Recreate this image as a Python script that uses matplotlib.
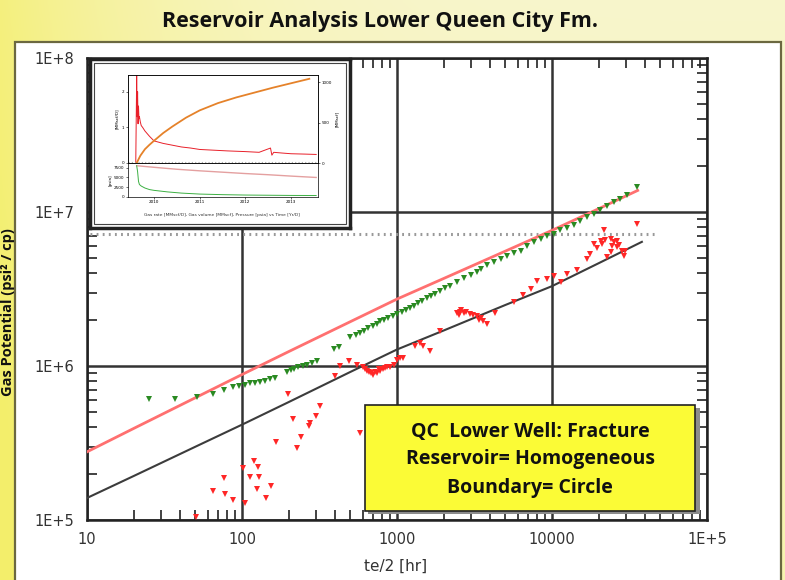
import matplotlib

matplotlib.use("Agg")
import matplotlib.pyplot as plt
import numpy as np
from matplotlib.patches import Rectangle
from matplotlib.ticker import FixedLocator, LogLocator, NullFormatter

W, H = 785, 580

# type-curve fits, te/2 [hr] vs gas potential
fit_upper_t = [10, 20, 50, 100, 200, 500, 1000, 2000, 5000, 10000, 20000, 35700]
fit_upper_p = [2.77e5, 3.93e5, 6.22e5, 8.8e5, 1.24e6, 1.94e6, 2.72e6, 3.7e6, 5.57e6, 7.6e6, 1.05e7, 1.38e7]
fit_lower_t = [10, 20, 50, 100, 200, 500, 1000, 2000, 5000, 10000, 20000, 38000]
fit_lower_p = [1.39e5, 1.93e5, 2.99e5, 4.16e5, 5.83e5, 9.15e5, 1.28e6, 1.7e6, 2.49e6, 3.3e6, 4.65e6, 6.4e6]

# measured derivative points (green)
deriv_t = [25, 37, 51, 65, 77, 88, 96, 104, 113, 121,
           130, 140, 152, 163, 195, 206, 218, 231, 246, 262,
           283, 305, 390, 420, 500, 545, 575, 610, 650, 695,
           740, 781, 830, 880, 940, 1000, 1070, 1140, 1210, 1282,
           1370, 1460, 1560, 1660, 1760, 1905, 2050, 2200, 2443, 2700,
           3000, 3290, 3460, 3800, 4200, 4656, 5100, 5650, 6266, 6900,
           7600, 8433, 9300, 10280, 11300, 12500, 13830, 15200, 16800, 18620,
           20500, 22700, 25100, 27600, 30600, 35560]
deriv_p = [6.1e5, 6.1e5, 6.3e5, 6.6e5, 7.0e5, 7.3e5, 7.4e5, 7.5e5, 7.7e5, 7.8e5,
           7.9e5, 8.0e5, 8.2e5, 8.3e5, 9.2e5, 9.4e5, 9.6e5, 9.8e5, 1.0e6, 1.02e6,
           1.05e6, 1.08e6, 1.28e6, 1.33e6, 1.55e6, 1.6e6, 1.65e6, 1.7e6, 1.76e6, 1.82e6,
           1.88e6, 1.95e6, 2.0e6, 2.05e6, 2.1e6, 2.17e6, 2.24e6, 2.31e6, 2.38e6, 2.46e6,
           2.55e6, 2.65e6, 2.75e6, 2.85e6, 2.93e6, 3.08e6, 3.2e6, 3.33e6, 3.52e6, 3.7e6,
           3.9e6, 4.06e6, 4.25e6, 4.5e6, 4.75e6, 4.96e6, 5.2e6, 5.45e6, 5.62e6, 6.0e6,
           6.35e6, 6.7e6, 6.95e6, 7.2e6, 7.6e6, 7.9e6, 8.2e6, 8.8e6, 9.3e6, 9.75e6,
           1.03e7, 1.1e7, 1.16e7, 1.21e7, 1.28e7, 1.46e7]

# measured pressure-change points (red)
delta_t = [50.6, 65, 77, 78, 88, 102, 104, 113, 119, 126,
           125, 129, 142, 154, 166, 197, 212, 226, 241, 269,
           275, 301, 320, 400, 430, 488, 552, 581, 600, 620,
           640, 660, 680, 700, 720, 740, 760, 780, 810, 840,
           860, 906, 950, 1000, 1050, 1100, 1300, 1400, 1480, 1640,
           1900, 2440, 2500, 2550, 2600, 2700, 2800, 2950, 3100, 3290,
           3380, 3500, 3600, 3800, 4300, 5680, 6500, 7280, 8040, 9330,
           10280, 11370, 12560, 14550, 16900, 17500, 18620, 19500, 20600, 21000,
           21600, 22000, 22800, 23900, 23900, 24500, 25100, 26400, 26400, 27000,
           28400, 29200, 29500, 35560]
delta_p = [1.05e5, 1.54e5, 1.88e5, 1.48e5, 1.35e5, 2.17e5, 1.28e5, 1.91e5, 2.4e5, 2.22e5,
           1.58e5, 1.9e5, 1.38e5, 1.67e5, 3.19e5, 6.6e5, 4.5e5, 2.93e5, 3.46e5, 4.1e5,
           4.27e5, 4.7e5, 5.47e5, 8.6e5, 1.0e6, 1.08e6, 1.02e6, 3.67e5, 9.8e5, 9.6e5,
           9.3e5, 9.2e5, 9.0e5, 8.7e5, 9.2e5, 9.0e5, 9.5e5, 9.3e5, 9.6e5, 9.7e5,
           9.9e5, 9.9e5, 1.02e6, 1.1e6, 1.13e6, 1.13e6, 1.35e6, 1.4e6, 1.35e6, 1.25e6,
           1.7e6, 2.2e6, 2.15e6, 2.25e6, 2.3e6, 2.2e6, 2.25e6, 2.17e6, 2.15e6, 2.11e6,
           2.0e6, 2.05e6, 1.95e6, 1.86e6, 2.2e6, 2.59e6, 2.9e6, 3.16e6, 3.58e6, 3.67e6,
           3.86e6, 3.49e6, 3.95e6, 4.17e6, 4.95e6, 5.3e6, 6.2e6, 5.8e6, 6.53e6, 6.2e6,
           7.6e6, 6.6e6, 5.08e6, 6.7e6, 5.48e6, 6.0e6, 6.37e6, 5.9e6, 6.53e6, 6.1e6,
           5.62e6, 5.2e6, 5.6e6, 8.4e6]

dotted_level = 7.2e6
dotted_span = [10.5, 48000]

x_ticks = [10, 100, 1000, 10000, 100000]
x_tick_labels = ["10", "100", "1000", "10000", "1E+5"]
y_ticks = [1e5, 1e6, 1e7, 1e8]
y_tick_labels = ["1E+5", "1E+6", "1E+7", "1E+8"]

# production history (inset)
rate_t = [2009.60, 2009.62, 2009.63, 2009.64, 2009.65, 2009.66, 2009.67, 2009.68, 2009.70, 2009.72,
          2009.75, 2009.8, 2009.9, 2010.0, 2010.2, 2010.4, 2010.6, 2010.8, 2011.0, 2011.3,
          2011.6, 2012.0, 2012.3, 2012.55, 2012.58, 2012.62, 2012.8, 2013.0, 2013.3, 2013.55]
rate = [0.0, 2.45, 1.3, 2.0, 1.1, 1.6, 1.25, 1.3, 1.15, 1.05,
        1.0, 0.9, 0.75, 0.62, 0.55, 0.5, 0.45, 0.42, 0.38, 0.36,
        0.34, 0.32, 0.3, 0.42, 0.22, 0.3, 0.28, 0.26, 0.25, 0.24]
cum_t = [2009.62, 2009.7, 2009.8, 2009.9, 2010.0, 2010.2, 2010.4, 2010.7, 2011.0, 2011.4,
         2011.8, 2012.2, 2012.6, 2013.0, 2013.4]
cum = [0, 90, 170, 225, 275, 370, 450, 560, 650, 740, 810, 870, 930, 985, 1040]
pres_t = [2009.62, 2010.0, 2010.5, 2011.0, 2011.5, 2012.0, 2012.5, 2013.0, 2013.55]
pres = [8000, 7600, 7100, 6700, 6350, 6000, 5700, 5350, 5000]
gas_t = [2009.62, 2009.64, 2009.66, 2009.68, 2009.72, 2009.8, 2009.9, 2010.0, 2010.3, 2010.6,
         2011.0, 2011.5, 2012.0, 2012.5, 2013.0, 2013.55]
gas = [8000, 6500, 4000, 3200, 2800, 2300, 1900, 1700, 1300, 1000,
       750, 600, 500, 450, 400, 380]

info_lines = ["QC  Lower Well: Fracture", "Reservoir= Homogeneous", "Boundary= Circle"]


def fx(px):
    return px / W


def fy(py):
    return 1 - py / H


def box(x0, y0, x1, y1):
    # pixel box (top-left, bottom-right) -> figure rect
    return [fx(x0), fy(y1), fx(x1) - fx(x0), fy(y0) - fy(y1)]


fig = plt.figure(figsize=(W / 100, H / 100), dpi=100)

# slide backdrop
bg = fig.add_axes([0, 0, 1, 1], zorder=-10)
xx, yy = np.meshgrid(np.linspace(0, 1, 300), np.linspace(0, 1, 200))
pale = np.array([0.972, 0.962, 0.80])
deep = np.array([0.955, 0.935, 0.42])
w = np.clip(0.8 * (1 - xx) ** 4 + 0.3 * yy, 0, 1)[..., None]
bg.imshow(pale * (1 - w) + deep * w, aspect="auto", extent=[0, 1, 0, 1], origin="upper")
bg.axis("off")

panel = Rectangle((fx(15), -0.01), fx(781) - fx(15), fy(42) + 0.01, transform=fig.transFigure,
                  facecolor="white", edgecolor="#6b6840", lw=1.6, zorder=-5)
fig.add_artist(panel)

fig.text(fx(380), fy(21), "Reservoir Analysis Lower Queen City Fm.", ha="center", va="center",
         fontsize=15.5, fontweight="bold", family="Open Sans", color="#111")
fig.text(fx(8), fy(312), "Gas Potential (psi² / cp)", rotation=90, ha="center", va="center",
         fontsize=10.5, fontweight="bold", family="Open Sans", color="#111")

# main log-log plot
ax = fig.add_axes(box(87, 58, 707, 520))
ax.set_xscale("log")
ax.set_yscale("log")
ax.set_xlim(10, 1e5)
ax.set_ylim(1e5, 1e8)
ax.grid(True, which="major", color="#333", lw=1.8)
ax.set_axisbelow(True)

ax.plot(dotted_span, [dotted_level, dotted_level], color="#999", lw=2.2, ls=(0, (0.6, 1.4)))
ax.plot(fit_upper_t, fit_upper_p, color="#ff7070", lw=2.0, zorder=3)
ax.plot(fit_lower_t, fit_lower_p, color="#3c3c3c", lw=1.5, zorder=3)
ax.plot(deriv_t, deriv_p, ls="none", marker="v", ms=5, mew=0, color="#2a8a22", zorder=4)
ax.plot(delta_t, delta_p, ls="none", marker="v", ms=5, mew=0, color="#ff2626", zorder=4)

ax.xaxis.set_major_locator(FixedLocator(x_ticks))
ax.set_xticklabels(x_tick_labels)
ax.yaxis.set_major_locator(FixedLocator(y_ticks))
ax.set_yticklabels(y_tick_labels)
for axis in (ax.xaxis, ax.yaxis):
    axis.set_minor_locator(LogLocator(base=10, subs=range(2, 10)))
    axis.set_minor_formatter(NullFormatter())
ax.tick_params(which="both", direction="in", top=True, right=True, colors="#222",
               labelsize=10.5, labelcolor="#333")
ax.tick_params(which="major", length=0, pad=9)
ax.tick_params(which="minor", length=7, width=1.2)
for s in ax.spines.values():
    s.set_linewidth(1.8)
    s.set_color("#222")
ax.set_xlabel("te/2 [hr]", fontsize=11, color="#333")
ax.xaxis.set_label_coords(0.497, -0.085)

# production history inset
frame = fig.add_axes(box(90, 59, 350, 228), zorder=5)
frame.set_xticks([])
frame.set_yticks([])
for s in frame.spines.values():
    s.set_linewidth(2.5)
    s.set_color("#222")
fig.add_artist(Rectangle((fx(94), fy(224)), fx(346) - fx(94), fy(63) - fy(224),
                         transform=fig.transFigure, fill=False, edgecolor="#444", lw=0.8, zorder=5.5))

top = fig.add_axes(box(128, 75, 318, 163), zorder=6)
top.plot(rate_t, rate, color="#e8202a", lw=0.7)
top.axhline(0.04, color="#aaa", lw=0.8, ls=(0, (1, 2)))
top.set_xlim(2009.43, 2013.59)
top.set_ylim(0, 2.47)
top.set_yticks([0, 1, 2])
top.set_xticks([2010, 2011, 2012, 2013])
top.tick_params(labelsize=3, length=1.5, width=0.4, pad=1, labelbottom=False)
top.set_ylabel("[MMscf/D]", fontsize=3, labelpad=2)
top2 = top.twinx()
top2.set_zorder(7)
top2.patch.set_visible(False)
top2.plot(cum_t, cum, color="#e5822a", lw=1.3)
top2.set_ylim(0, 1087)
top2.set_yticks([0, 500, 1000])
top2.tick_params(labelsize=3, length=1.5, width=0.4, pad=1)
top2.set_ylabel("[MMscf]", fontsize=3, labelpad=2)

bot = fig.add_axes(box(128, 163, 318, 197), zorder=6)
bot.plot(pres_t, pres, color="#e4a0a0", lw=1.0)
bot.plot(gas_t, gas, color="#3cb043", lw=0.7)
bot.set_xlim(2009.43, 2013.59)
bot.set_ylim(0, 8700)
bot.set_yticks([0, 2500, 5000, 7500])
bot.set_xticks([2010, 2011, 2012, 2013])
bot.tick_params(labelsize=3, length=1.5, width=0.4, pad=1)
bot.set_ylabel("[psia]", fontsize=3, labelpad=1)
for a in (top, top2, bot):
    for s in a.spines.values():
        s.set_linewidth(0.5)
fig.text(fx(222), fy(215), "Gas rate [MMscf/D], Gas volume [MMscf], Pressure [psia] vs Time [Yr/D]",
         ha="center", va="center", fontsize=3.2, color="#333", zorder=8)

# well summary box
fig.add_artist(Rectangle((fx(368), fy(514)), fx(697) - fx(365), fy(405) - fy(511),
                         transform=fig.transFigure, facecolor="#8c8c8c", lw=0, zorder=9))
fig.add_artist(Rectangle((fx(365), fy(511)), fx(695) - fx(365), fy(405) - fy(511),
                         transform=fig.transFigure, facecolor="#fbfb36", edgecolor="#222", lw=1.2,
                         zorder=10))
for py, line in zip([432, 459, 488], info_lines):
    fig.text(fx(530), fy(py), line, ha="center", va="center", fontsize=14, fontweight="bold",
             family="Open Sans", color="#111", zorder=11)

fig.savefig("out.png", dpi=100)
